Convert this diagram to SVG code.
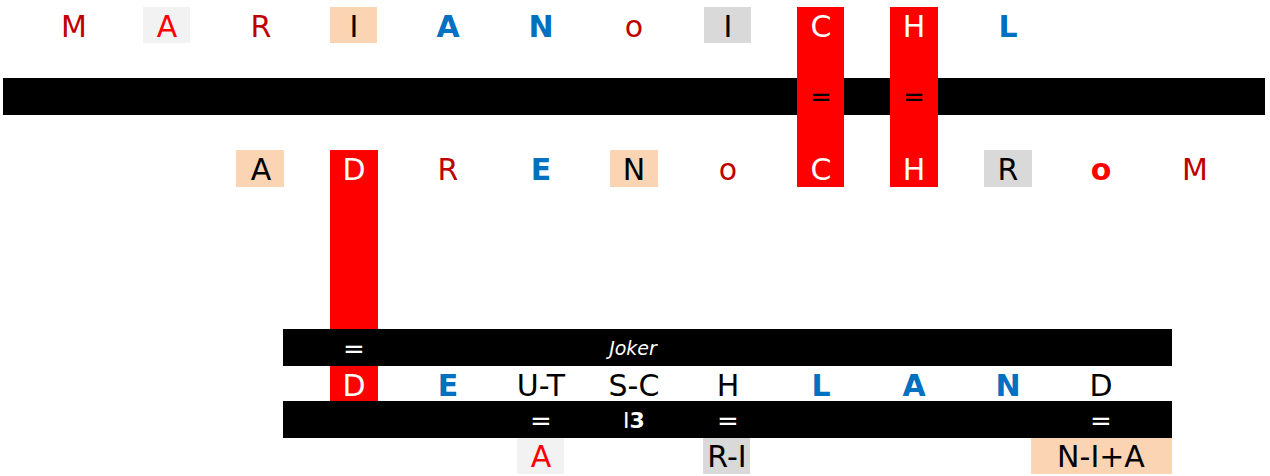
<svg xmlns="http://www.w3.org/2000/svg" width="1270" height="476" viewBox="0 0 1270 476">
<style>
text{font-family:"DejaVu Sans","Verdana",sans-serif;font-size:30px;text-anchor:middle}
.b{font-weight:bold}
.dr{fill:#C00000}.rd{fill:#FF0000}.bl{fill:#0070C0}.k{fill:#000}.w{fill:#FFF}
.pe{fill:#FBD4B4}.lg{fill:#F2F2F2}.gy{fill:#D9D9D9}.red{fill:#FF0000}.bar{fill:#000}
.eq{font-size:26px}
.jk{font-size:19px;font-style:italic}
.i3{font-size:22px}
</style>
<rect width="1270" height="476" fill="#FFF"/>
<g id="bars">
<rect class="bar" x="3" y="78" width="1262" height="37"/>
</g>
<g id="red-columns">
<rect class="red" x="797" y="7" width="47" height="180"/>
<rect class="red" x="890" y="7" width="48" height="180"/>
<rect class="red" x="330" y="150" width="48" height="251"/>
</g>
<g id="bottom-bars">
<rect class="bar" x="283" y="329" width="889" height="37"/>
<rect class="bar" x="283" y="401" width="889" height="37"/>
</g>
<g id="row1">
<g id="r1c1"><text class="dr" x="74" y="37">M</text></g>
<g id="r1c2"><rect class="lg" x="143" y="7" width="47" height="36"/><text class="rd" x="167" y="37">A</text></g>
<g id="r1c3"><text class="dr" x="261" y="37">R</text></g>
<g id="r1c4"><rect class="pe" x="330" y="7" width="47" height="36"/><text class="k" x="354" y="37">I</text></g>
<g id="r1c5"><text class="bl b" x="448" y="37">A</text></g>
<g id="r1c6"><text class="bl b" x="541" y="37">N</text></g>
<g id="r1c7"><text class="dr" x="634" y="37">o</text></g>
<g id="r1c8"><rect class="gy" x="704" y="7" width="47" height="36"/><text class="k" x="728" y="37">I</text></g>
<g id="r1c9"><text class="w" x="821" y="37">C</text></g>
<g id="r1c10"><text class="w" x="914" y="37">H</text></g>
<g id="r1c11"><text class="bl b" x="1008" y="37">L</text></g>
</g>
<g id="bar1-text">
<text class="k eq" x="821" y="106">=</text>
<text class="k eq" x="914" y="106">=</text>
</g>
<g id="row2">
<g id="r2c1"><rect class="pe" x="236" y="150" width="48" height="37"/><text class="k" x="261" y="180">A</text></g>
<g id="r2c2"><text class="w" x="354" y="180">D</text></g>
<g id="r2c3"><text class="dr" x="448" y="180">R</text></g>
<g id="r2c4"><text class="bl b" x="541" y="180">E</text></g>
<g id="r2c5"><rect class="pe" x="610" y="150" width="48" height="37"/><text class="k" x="634" y="180">N</text></g>
<g id="r2c6"><text class="dr" x="728" y="180">o</text></g>
<g id="r2c7"><text class="w" x="821" y="180">C</text></g>
<g id="r2c8"><text class="w" x="914" y="180">H</text></g>
<g id="r2c9"><rect class="gy" x="984" y="150" width="48" height="37"/><text class="k" x="1008" y="180">R</text></g>
<g id="r2c10"><text class="rd b" x="1101" y="180">o</text></g>
<g id="r2c11"><text class="dr" x="1195" y="180">M</text></g>
</g>
<g id="bar2-text">
<text class="w eq" x="354" y="358">=</text>
<text class="w jk" x="633" y="355">Joker</text>
</g>
<g id="row3">
<g id="r3c1"><text class="w" x="354" y="396">D</text></g>
<g id="r3c2"><text class="bl b" x="448" y="396">E</text></g>
<g id="r3c3"><text class="k" x="541" y="396">U-T</text></g>
<g id="r3c4"><text class="k" x="634" y="396">S-C</text></g>
<g id="r3c5"><text class="k" x="728" y="396">H</text></g>
<g id="r3c6"><text class="bl b" x="821" y="396">L</text></g>
<g id="r3c7"><text class="bl b" x="914" y="396">A</text></g>
<g id="r3c8"><text class="bl b" x="1008" y="396">N</text></g>
<g id="r3c9"><text class="k" x="1101" y="396">D</text></g>
</g>
<g id="bar3-text">
<text class="w eq" x="541" y="430">=</text>
<text class="w i3" x="634" y="428">I<tspan class="b">3</tspan></text>
<text class="w eq" x="728" y="430">=</text>
<text class="w eq" x="1101" y="430">=</text>
</g>
<g id="row4">
<g id="r4c1"><rect class="lg" x="517" y="438" width="47" height="36"/><text class="rd" x="541" y="467">A</text></g>
<g id="r4c2"><rect class="gy" x="703" y="438" width="47" height="36"/><text class="k" x="727" y="467">R-I</text></g>
<g id="r4c3"><rect class="pe" x="1031" y="438" width="141" height="36"/><text class="k" x="1101" y="467">N-I+A</text></g>
</g>
</svg>
